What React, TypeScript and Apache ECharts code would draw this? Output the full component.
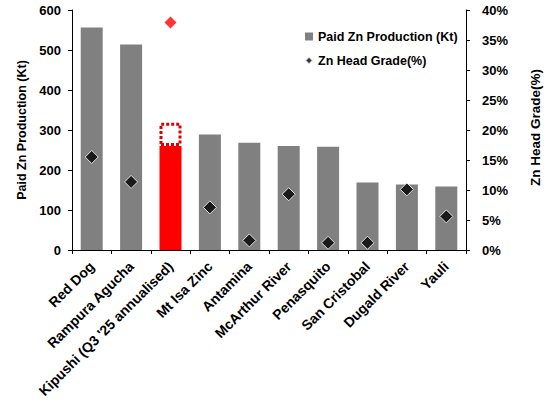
import { useEffect, useRef } from 'react';
import * as echarts from 'echarts';

const mines = [
  'Red Dog',
  'Rampura Agucha',
  "Kipushi (Q3 '25 annualised)",
  'Mt Isa Zinc',
  'Antamina',
  'McArthur River',
  'Penasquito',
  'San Cristobal',
  'Dugald River',
  'Yauli',
];

// Paid Zn production, kt
const production = [556, 514, 260, 289, 268, 260, 258, 169, 164, 159];
// dotted top-up on the Kipushi bar (annualised upside), kt
const upside = [0, 0, 58, 0, 0, 0, 0, 0, 0, 0];
// Zn head grade, %
const headGrade = [15.5, 11.35, 37.9, 7.1, 1.6, 9.3, 1.2, 1.2, 10.1, 5.6];

const highlightIndex = 2;

const FONT = '"Liberation Sans", Arial, sans-serif';

export default function App() {
  const chartRef = useRef<HTMLDivElement>(null);

  useEffect(() => {
    if (!chartRef.current) return;
    const chart = echarts.init(chartRef.current, null, { renderer: 'svg' });

    const labelStyle = {
      color: '#000',
      fontFamily: FONT,
      fontWeight: 'bold' as const,
      fontSize: 13,
    };

    const option: echarts.EChartsOption = {
      animation: false,
      backgroundColor: '#fff',
      textStyle: { fontFamily: FONT },
      grid: { left: 72, right: 78, top: 10, bottom: 160, containLabel: false },
      legend: {
        orient: 'vertical',
        left: 299,
        top: 25,
        itemGap: 11,
        itemWidth: 8,
        itemHeight: 8,
        selectedMode: false,
        textStyle: { ...labelStyle, fontSize: 12.5 },
        data: [
          { name: 'Paid Zn Production (Kt)', icon: 'rect' },
          { name: 'Zn Head Grade(%)', icon: 'diamond' },
        ],
      },
      xAxis: {
        type: 'category',
        data: mines,
        axisLine: { lineStyle: { color: '#000', width: 1 } },
        axisTick: { show: true, length: 4, interval: 0, lineStyle: { color: '#000' } },
        axisLabel: { ...labelStyle, fontSize: 14, rotate: 45, interval: 0, margin: 14 },
        splitLine: { show: false },
      },
      yAxis: [
        {
          type: 'value',
          min: 0,
          max: 600,
          interval: 100,
          name: 'Paid Zn Production (Kt)',
          nameLocation: 'middle',
          nameGap: 43,
          nameRotate: 90,
          nameTextStyle: { ...labelStyle, fontSize: 12.5 },
          axisLine: { show: true, lineStyle: { color: '#000' } },
          axisTick: { show: true, length: 4, lineStyle: { color: '#000' } },
          axisLabel: { ...labelStyle, margin: 11 },
          splitLine: { show: false },
        },
        {
          type: 'value',
          min: 0,
          max: 40,
          interval: 5,
          position: 'right',
          name: 'Zn Head Grade(%)',
          nameLocation: 'middle',
          nameGap: 62,
          nameRotate: 90,
          nameTextStyle: { ...labelStyle, fontSize: 13.5, padding: [0, 0, 0, 5] },
          axisLine: { show: true, lineStyle: { color: '#000' } },
          axisTick: { show: true, length: 4, lineStyle: { color: '#000' } },
          axisLabel: { ...labelStyle, margin: 16, formatter: (v: number) => `${v}%` },
          splitLine: { show: false },
        },
      ],
      series: [
        {
          name: 'Paid Zn Production (Kt)',
          type: 'bar',
          stack: 'prod',
          barWidth: 22,
          itemStyle: { color: '#808080' },
          data: production.map((v, i) =>
            i === highlightIndex ? { value: v, itemStyle: { color: '#ff0000' } } : v
          ),
        },
        {
          name: 'upside',
          type: 'bar',
          stack: 'prod',
          barWidth: 22,
          itemStyle: {
            color: 'rgba(255,255,255,0)',
            borderColor: '#e00000',
            borderWidth: 3,
            borderType: [3, 2],
          },
          data: upside.map((v) => (v === 0 ? '-' : v)),
        },
        {
          name: 'Zn Head Grade(%)',
          type: 'scatter',
          yAxisIndex: 1,
          symbol: 'diamond',
          symbolSize: 13,
          itemStyle: { color: '#000', borderColor: '#fff', borderWidth: 1 },
          z: 5,
          data: headGrade.map((v, i) =>
            i === highlightIndex
              ? { value: v, symbolSize: 12, itemStyle: { color: '#ff0000', borderWidth: 0 } }
              : v
          ),
        },
      ],
    };

    chart.setOption(option);

    return () => {
      chart.dispose();
    };
  }, []);

  return (
    <div
      ref={chartRef}
      style={{ position: 'fixed', left: 0, top: 0, width: 550, height: 410 }}
    />
  );
}
